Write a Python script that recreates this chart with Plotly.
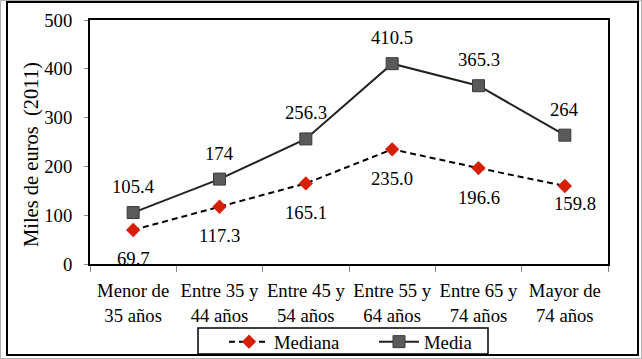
import plotly.graph_objects as go

categories = ["Menor de<br>35 años", "Entre 35 y<br>44 años", "Entre 45 y<br>54 años",
              "Entre 55 y<br>64 años", "Entre 65 y<br>74 años", "Mayor de<br>74 años"]
mediana = [69.7, 117.3, 165.1, 235.0, 196.6, 159.8]
media = [105.4, 174, 256.3, 410.5, 365.3, 264]
y_ticks = [0, 100, 200, 300, 400, 500]
y_title = "Miles de euros  (2011)"

FONT = "Times New Roman, Liberation Serif, DejaVu Serif, Noto Serif, serif"
FS = 18.7

# paper-coordinate helpers (plot area: x 90..608 px, y 20..264 px)
def px_x(x):
    return (x - 90) / 518

def px_y(y):
    return (264 - y) / 244

fig = go.Figure()
fig.add_trace(go.Scatter(
    x=categories, y=mediana, name="Mediana", mode="lines+markers",
    line=dict(color="black", width=2, dash="6px,4px"),
    marker=dict(symbol="diamond", size=11, color="#d81e05", line=dict(width=0)),
))
fig.add_trace(go.Scatter(
    x=categories, y=media, name="Media", mode="lines+markers",
    line=dict(color="#222222", width=2),
    marker=dict(symbol="square", size=12, color="#5a5a5a", line=dict(color="#3a3a3a", width=1)),
))

# data labels
for i, (c, v) in enumerate(zip(categories, media)):
    fig.add_annotation(x=c, y=v, text=f"{v:g}", showarrow=False, yshift=26,
                       font=dict(family=FONT, size=FS, color="black"))
for i, (c, v) in enumerate(zip(categories, mediana)):
    last = i == len(mediana) - 1
    fig.add_annotation(x=c, y=v, text=f"{v:.1f}", showarrow=False,
                       yshift=-17 if last else -29, xshift=10 if last else 0,
                       font=dict(family=FONT, size=FS, color="black"))

# y-axis title
fig.add_annotation(xref="paper", yref="paper", x=px_x(31), y=px_y(155),
                   xanchor="center", yanchor="middle", text=y_title, textangle=-90,
                   showarrow=False, font=dict(family=FONT, size=20.5, color="black"))

# faint outer edge
fig.add_shape(type="rect", xref="paper", yref="paper",
              x0=px_x(0.5), x1=px_x(641.5), y0=px_y(358.5), y1=px_y(0.5),
              line=dict(color="#b0b0b0", width=1), layer="above")
# outer frame
fig.add_shape(type="rect", xref="paper", yref="paper",
              x0=px_x(7), x1=px_x(638), y0=px_y(355), y1=px_y(2),
              line=dict(color="black", width=2), layer="above")
# legend box
fig.add_shape(type="rect", xref="paper", yref="paper",
              x0=px_x(198), x1=px_x(488), y0=px_y(354), y1=px_y(328),
              line=dict(color="black", width=1.5), layer="above")

fig.update_layout(
    width=642, height=359,
    margin=dict(l=90, r=34, t=20, b=95, autoexpand=False),
    paper_bgcolor="white", plot_bgcolor="white",
    font=dict(family=FONT, size=FS, color="black"),
    showlegend=True,
    legend=dict(orientation="h", x=px_x(224), y=px_y(323), xanchor="left", yanchor="top",
                borderwidth=0, bgcolor="rgba(0,0,0,0)",
                font=dict(family=FONT, size=FS, color="black"),
                itemwidth=40, tracegroupgap=0, entrywidth=95),
    xaxis=dict(
        type="category", range=[-0.5, 5.5], showline=True, linecolor="black", linewidth=2,
        mirror=True, ticks="outside", tickson="boundaries", ticklen=6, tickcolor="#888888",
        showgrid=False, zeroline=False, tickfont=dict(family=FONT, size=FS),
        ticklabelstandoff=9, tickangle=0, automargin=False,
    ),
    yaxis=dict(
        range=[0, 500], tickvals=y_ticks, showline=True, linecolor="black", linewidth=2,
        mirror=True, ticks="outside", ticklen=4, tickcolor="#888888", showgrid=False,
        zeroline=False, tickfont=dict(family=FONT, size=FS), ticklabelstandoff=8,
        automargin=False,
    ),
)

fig.write_html("out.html", config={"displayModeBar": False},
               post_script="document.body.style.margin='0px';")
